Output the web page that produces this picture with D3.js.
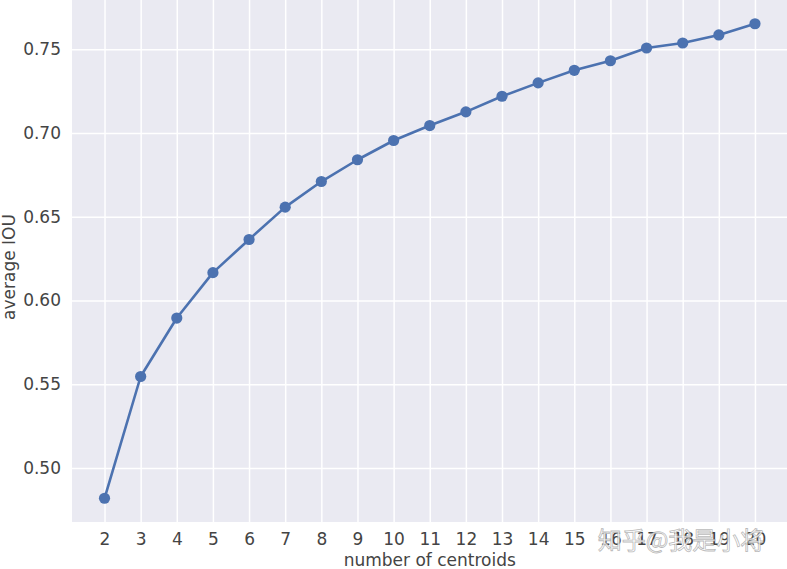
<!DOCTYPE html>
<html><head><meta charset="utf-8">
<script src="https://cdn.jsdelivr.net/npm/d3@7"></script>
<style>body{margin:0;background:#fff}svg{display:block}</style>
</head><body>
<script>
const centroids = [2,3,4,5,6,7,8,9,10,11,12,13,14,15,16,17,18,19,20];
const avgIOU = [0.4819,0.5546,0.5895,0.6166,0.6364,0.6557,0.6710,0.6840,0.6955,0.7044,0.7126,0.7219,0.7299,0.7374,0.7431,0.7507,0.7537,0.7585,0.7652];
const yTicks = [0.50,0.55,0.60,0.65,0.70,0.75];
const xLabel = "number of centroids";
const yLabel = "average IOU";
const watermark = "知乎@我是小将";

const W = 787, H = 569;
const m = {left:72, top:0, right:-0.5, bottom:47};
const svg = d3.select("body").append("svg").attr("width",W).attr("height",H);

const xmin = d3.min(centroids), xmax = d3.max(centroids);
const xpad = (xmax-xmin)*0.05;
const ymin = d3.min(avgIOU), ymax = d3.max(avgIOU);
const ypad = (ymax-ymin)*0.05;
const x = d3.scaleLinear().domain([xmin-xpad, xmax+xpad]).range([m.left, W-m.right]);
const y = d3.scaleLinear().domain([ymin-ypad, ymax+ypad]).range([H-m.bottom, m.top]);

svg.append("rect").attr("x",m.left).attr("y",m.top)
  .attr("width",W-m.right-m.left).attr("height",H-m.bottom-m.top).attr("fill","#EAEAF2");

const font = "'DejaVu Sans', sans-serif";
const fs = 17;
const gx = svg.append("g").attr("transform",`translate(0,${H-m.bottom})`)
  .call(d3.axisBottom(x).tickValues(centroids).tickSize(-(H-m.bottom-m.top)).tickPadding(11).tickFormat(d3.format("d")));
const gy = svg.append("g").attr("transform",`translate(${m.left},0)`)
  .call(d3.axisLeft(y).tickValues(yTicks).tickSize(-(W-m.right-m.left)).tickPadding(11).tickFormat(d3.format(".2f")));
[gx,gy].forEach(g=>{
  g.select(".domain").remove();
  g.selectAll(".tick line").attr("stroke","#fff").attr("stroke-width",1.5);
  g.selectAll(".tick text").attr("fill","#444").attr("font-family",font).attr("font-size",fs);
});

const line = d3.line().x((d,i)=>x(centroids[i])).y(d=>y(d));
svg.append("path").datum(avgIOU).attr("d",line).attr("fill","none")
  .attr("stroke","#4C72B0").attr("stroke-width",2.6).attr("stroke-linejoin","round");
svg.selectAll("circle.pt").data(avgIOU).join("circle").attr("class","pt")
  .attr("cx",(d,i)=>x(centroids[i])).attr("cy",d=>y(d)).attr("r",5.6).attr("fill","#4C72B0");

svg.append("text").attr("x",(m.left+W-m.right)/2).attr("y",H-3).attr("text-anchor","middle")
  .attr("font-family",font).attr("font-size",fs).attr("fill","#444").text(xLabel);
svg.append("text").attr("transform",`translate(15,${(m.top+H-m.bottom)/2 + 6}) rotate(-90)`)
  .attr("text-anchor","middle").attr("font-family",font).attr("font-size",fs).attr("fill","#444").text(yLabel);

svg.append("text").attr("x",681).attr("y",549).attr("text-anchor","middle")
  .attr("font-family","'Noto Sans CJK SC', sans-serif").attr("font-size",24)
  .attr("fill","#fff").attr("fill-opacity",0.85).attr("stroke","#999").attr("stroke-width",0.8).attr("stroke-opacity",0.7)
  .text(watermark);
</script>
</body></html>
